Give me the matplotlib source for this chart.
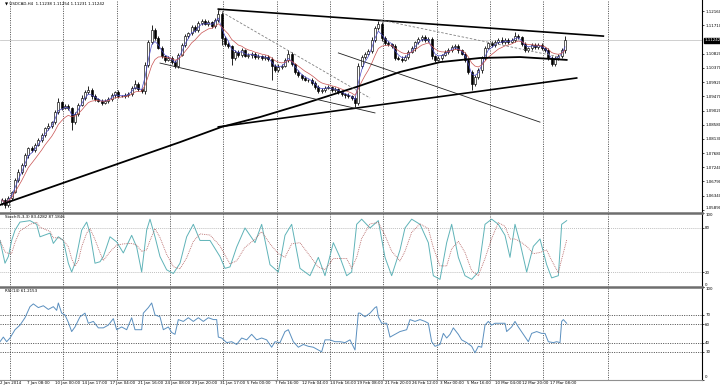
import numpy as np
import pandas as pd
import matplotlib
matplotlib.use("Agg")
import matplotlib.pyplot as plt
from matplotlib.lines import Line2D

# ---------------- data ----------------
open0 = 1.0612
close = [1.0621, 1.0605, 1.0627, 1.0646, 1.0684, 1.0709, 1.0731, 1.0762, 1.0785, 1.0778,
         1.0794, 1.0810, 1.0825, 1.0848, 1.0854, 1.0866, 1.0898, 1.0929, 1.0911, 1.0917,
         1.0911, 1.0866, 1.0892, 1.0920, 1.0942, 1.0961, 1.0967, 1.0948, 1.0939, 1.0933,
         1.0926, 1.0933, 1.0939, 1.0951, 1.0961, 1.0948, 1.0948, 1.0951, 1.0955, 1.0974,
         1.0986, 1.0970, 1.0964, 1.1046, 1.1118, 1.1156, 1.1131, 1.1099, 1.1074, 1.1062,
         1.1068, 1.1055, 1.1043, 1.1077, 1.1109, 1.1137, 1.1147, 1.1166, 1.1156, 1.1178,
         1.1185, 1.1175, 1.1181, 1.1169, 1.1188, 1.1207, 1.1131, 1.1112, 1.1106, 1.1068,
         1.1087, 1.1077, 1.1093, 1.1074, 1.1077, 1.1081, 1.1071, 1.1074, 1.1068, 1.1071,
         1.1065, 1.1043, 1.1030, 1.1040, 1.1043, 1.1062, 1.1081, 1.1049, 1.1024, 1.1014,
         1.1005, 1.0999, 1.0999, 1.0989, 1.0977, 1.0964, 1.0967, 1.0974, 1.0977, 1.0967,
         1.0970, 1.0961, 1.0955, 1.0951, 1.0948, 1.0942, 1.0926, 1.1043, 1.1071, 1.1081,
         1.1090, 1.1125, 1.1162, 1.1175, 1.1131, 1.1115, 1.1112, 1.1106, 1.1068, 1.1065,
         1.1062, 1.1071, 1.1087, 1.1099, 1.1118, 1.1128, 1.1134, 1.1125, 1.1128, 1.1074,
         1.1062, 1.1068, 1.1077, 1.1087, 1.1093, 1.1103, 1.1106, 1.1093, 1.1081, 1.1062,
         1.1024, 1.0986, 1.1008, 1.1030, 1.1068, 1.1099, 1.1115, 1.1109, 1.1118, 1.1125,
         1.1118, 1.1125, 1.1118, 1.1125, 1.1137, 1.1134, 1.1112, 1.1093, 1.1099, 1.1109,
         1.1103, 1.1109, 1.1099, 1.1093, 1.1068, 1.1049, 1.1068, 1.1074, 1.1093, 1.1124]
hi_pips = [6, 5, 7, 4, 6, 8, 5, 7, 4, 6, 5, 7, 6, 4, 8, 5, 6, 13, 5, 7,
           6, 4, 7, 5, 8, 6, 13, 5, 6, 4, 7, 5, 6, 8, 4, 6, 5, 7, 6, 5,
           13, 6, 4, 9, 8, 16, 6, 5, 7, 4, 6, 5, 8, 6, 5, 7, 4, 6, 5, 8,
           6, 5, 7, 4, 6, 15, 8, 5, 6, 4, 7, 5, 6, 4, 8, 5, 6, 7, 4, 6,
           5, 7, 6, 8, 5, 6, 12, 6, 4, 7, 5, 6, 4, 7, 5, 6, 8, 5, 6, 4,
           7, 5, 6, 4, 8, 5, 6, 9, 7, 5, 6, 8, 7, 10, 6, 5, 7, 4, 6, 5,
           8, 6, 5, 7, 4, 6, 8, 5, 7, 6, 5, 7, 4, 6, 8, 5, 6, 7, 4, 6,
           5, 7, 6, 8, 5, 6, 4, 7, 6, 5, 8, 6, 5, 7, 13, 6, 4, 7, 5, 6,
           7, 5, 6, 4, 8, 5, 7, 6, 5, 12]
lo_pips = [7, 8, 5, 6, 4, 7, 5, 6, 8, 5, 6, 4, 7, 5, 6, 8, 5, 6, 7, 4,
           6, 25, 5, 7, 4, 6, 5, 8, 6, 5, 7, 4, 6, 5, 8, 6, 4, 7, 5, 6,
           5, 7, 6, 8, 6, 5, 7, 4, 6, 8, 5, 6, 6, 7, 4, 6, 5, 8, 6, 5,
           7, 4, 6, 5, 8, 6, 22, 7, 5, 22, 6, 5, 7, 4, 6, 8, 5, 6, 7, 5,
           6, 44, 5, 7, 6, 4, 8, 6, 5, 7, 6, 4, 7, 5, 8, 6, 5, 7, 4, 6,
           5, 7, 6, 8, 5, 6, 12, 7, 5, 6, 4, 6, 7, 5, 8, 6, 5, 7, 6, 4,
           6, 5, 7, 4, 8, 6, 5, 7, 6, 8, 7, 5, 6, 4, 7, 5, 6, 8, 5, 6,
           7, 19, 6, 5, 8, 6, 4, 7, 5, 6, 5, 7, 6, 4, 8, 6, 5, 7, 6, 5,
           6, 8, 5, 7, 6, 5, 7, 6, 5, 8]

# slow moving average (black), read at H4-bar times
ma_t = [0, 36, 72, 108, 133, 156, 180, 214, 240, 264, 288, 312, 340]
ma_p = [1.0605, 1.0671, 1.0737, 1.0803, 1.0851, 1.0882, 1.0920, 1.0977, 1.1024, 1.1055, 1.1068, 1.1071, 1.1062]

# drawn trendlines: (t0, p0, t1, p1)
top_line = (131, 1.1222, 362, 1.1137)
support_line = (131, 1.0851, 346, 1.1005)
chan1_low = (96, 1.1052, 225, 1.0895)
chan1_up = (131, 1.1219, 222, 1.0942)
chan2_low = (203, 1.1084, 324, 1.0866)
chan2_up = (228, 1.1188, 336, 1.1071)

# stochastic main line
st_t = [0, 3, 5, 7, 9, 12, 18, 22, 24, 30, 32, 35, 38, 41, 43, 45, 47, 49, 52, 54,
        57, 60, 62, 66, 70, 74, 79, 82, 85, 88, 90, 93, 96, 100, 104, 108, 112, 116, 120, 126,
        132, 135, 138, 142, 147, 153, 157, 162, 167, 171, 175, 180, 186, 191, 195, 200, 204, 208, 211, 214,
        217, 222, 227, 231, 235, 240, 243, 247, 252, 257, 260, 264, 268, 271, 275, 279, 283, 287, 291, 295,
        299, 303, 306, 309, 312, 316, 320, 324, 328, 331, 335, 337, 340]
st_v = [63, 32, 41, 63, 77, 88, 90, 85, 68, 73, 59, 68, 63, 32, 20, 32, 54, 77, 88, 73,
        32, 34, 41, 68, 61, 46, 70, 54, 20, 77, 92, 68, 41, 23, 18, 32, 68, 85, 63, 63,
        41, 25, 27, 54, 80, 60, 85, 30, 20, 70, 85, 25, 15, 40, 15, 60, 40, 15, 20, 85,
        92, 80, 90, 40, 15, 50, 80, 92, 85, 60, 15, 10, 60, 85, 40, 15, 10, 20, 85, 92,
        85, 70, 40, 85, 60, 20, 55, 65, 30, 12, 15, 85, 90]

# RSI(14)
rsi_t = [0, 2, 4, 6, 9, 12, 15, 18, 20, 23, 26, 29, 32, 34, 35, 37, 39, 41, 43, 45,
         48, 51, 53, 56, 59, 62, 65, 68, 70, 73, 76, 79, 81, 85, 86, 89, 91, 93, 96, 98,
         101, 103, 105, 107, 110, 113, 116, 119, 122, 125, 128, 130, 131, 133, 136, 139, 142, 145, 148, 151,
         154, 157, 160, 163, 165, 168, 171, 173, 176, 179, 182, 185, 188, 191, 193, 195, 198, 201, 204, 207,
         210, 213, 215, 216, 219, 222, 225, 226, 227, 229, 232, 234, 237, 240, 244, 246, 249, 252, 255, 257,
         259, 261, 264, 266, 268, 270, 272, 275, 277, 280, 283, 285, 287, 289, 291, 293, 295, 297, 300, 303,
         304, 307, 309, 311, 314, 317, 319, 322, 325, 327, 329, 332, 334, 336, 337, 338, 340]
rsi_v = [41, 46, 41, 45, 54, 59, 67, 79, 82, 78, 80, 76, 79, 75, 83, 72, 70, 62, 52, 57,
         68, 72, 61, 63, 56, 56, 59, 66, 54, 57, 54, 67, 54, 54, 72, 78, 83, 70, 68, 54,
         57, 51, 49, 65, 63, 67, 63, 67, 63, 67, 65, 65, 46, 45, 40, 41, 38, 45, 43, 49,
         43, 45, 43, 35, 41, 40, 52, 54, 41, 35, 38, 36, 35, 32, 30, 43, 43, 41, 41, 40,
         43, 32, 72, 72, 68, 72, 78, 79, 68, 61, 61, 46, 49, 52, 54, 65, 63, 65, 63, 61,
         41, 36, 38, 50, 45, 49, 56, 49, 43, 40, 36, 29, 36, 35, 59, 63, 59, 61, 61, 61,
         52, 57, 63, 57, 49, 41, 50, 52, 50, 50, 41, 40, 41, 40, 63, 65, 61]

price_ticks = [1.12160, 1.11710, 1.10820, 1.10370, 1.09920, 1.09470, 1.09020,
               1.08580, 1.08130, 1.07680, 1.07240, 1.06790, 1.06340, 1.05890]
last_price = 1.11242
date_labels = ["2 Jan 2014", "7 Jan 08:00", "10 Jan 00:00", "14 Jan 17:00", "17 Jan 04:00",
               "21 Jan 16:00", "24 Jan 08:00", "29 Jan 20:00", "31 Jan 17:00", "5 Feb 00:00",
               "7 Feb 16:00", "12 Feb 04:00", "14 Feb 16:00", "19 Feb 08:00", "21 Feb 20:00",
               "26 Feb 12:00", "3 Mar 00:00", "5 Mar 16:00", "10 Mar 04:00", "12 Mar 20:00",
               "17 Mar 08:00"]
date_step = 16.5
grid_t = [6, 38, 70, 102, 134, 166, 198, 230, 262, 294, 326, 365]
title = "\u25bc USDCAD,H4  1.11238 1.11254 1.11231 1.11242"
stoch_title = "Stoch(5,3,3) 83.4282 87.1846"
rsi_title = "RSI(14) 61.2153"

# ---------------- figure ----------------
W, H = 720, 385
fig = plt.figure(figsize=(W / 100, H / 100), dpi=100)
fig.patch.set_facecolor("white")
XR = 702


def rect(top, bottom):
    return [0, 1 - bottom / H, XR / W, (bottom - top) / H]


ax = fig.add_axes(rect(0, 212))
axs = fig.add_axes(rect(213.3, 286.7))
axr = fig.add_axes(rect(287.3, 379.5))
XMAX = XR * 0.6
FS = 2.9
grid_kw = dict(color="#303030", lw=0.6, ls=(0, (1.2, 1.6)))

for a in (ax, axs, axr):
    a.set_xlim(0, XMAX)
    for s in ("left", "top", "bottom"):
        a.spines[s].set_visible(False)
    a.spines["right"].set_color("black")
    a.spines["right"].set_linewidth(0.8)
    a.yaxis.tick_right()
    a.tick_params(axis="y", length=1.5, width=0.5, pad=0.8, labelsize=FS, colors="black")
    a.tick_params(axis="x", length=0, labelsize=FS, pad=0.8)
    for g in grid_t:
        a.axvline(g, **grid_kw, zorder=0)

# --- candles ---
n = len(close)
opens = [open0] + close[:-1]
t = np.arange(n) * 2 + 1
c = np.array(close)
o = np.array(opens)
hi = np.maximum(o, c) + np.array(hi_pips) * 1e-4
lo = np.minimum(o, c) - np.array(lo_pips) * 1e-4
ax.vlines(t, lo, hi, color="black", lw=0.6, zorder=3)
up = c >= o
body_w = 1.3
ax.bar(t[up], (c - o)[up] + 1e-5, bottom=o[up], width=body_w, color="white",
       edgecolor="black", linewidth=0.45, zorder=4)
ax.bar(t[~up], (o - c)[~up] + 1e-5, bottom=c[~up], width=body_w, color="black",
       edgecolor="black", linewidth=0.45, zorder=4)

s = pd.Series(close)
ax.plot(t, s.ewm(span=3).mean(), color="#4848c8", lw=0.5, zorder=5)
ax.plot(t, s.ewm(span=8).mean(), color="#c85050", lw=0.5, zorder=5)
ax.plot(ma_t, ma_p, color="black", lw=1.3, zorder=6)

for ln, lw, col, ls in [(top_line, 1.2, "black", "-"), (support_line, 1.2, "black", "-"),
                        (chan1_low, 0.6, "#202020", "-"), (chan2_low, 0.6, "#202020", "-"),
                        (chan1_up, 0.6, "#808080", (0, (3, 2))), (chan2_up, 0.6, "#808080", (0, (3, 2)))]:
    ax.plot([ln[0], ln[2]], [ln[1], ln[3]], color=col, lw=lw, ls=ls, zorder=6)

ax.axhline(last_price, color="#c8c8c8", lw=0.6, zorder=1)
ax.set_ylim(1.05829, 1.12507)
ax.set_yticks(price_ticks)
ax.set_yticklabels([f"{p:.5f}" for p in price_ticks])
ax.set_xticks([])
ax.text(1.004, last_price, f"{last_price:.5f}", transform=ax.get_yaxis_transform(),
        fontsize=FS, color="white", va="center", ha="left",
        bbox=dict(boxstyle="square,pad=0.12", fc="black", ec="black"))
ax.text(3, 1.12507 - 0.0011, title, fontsize=FS, va="center", ha="left")

# --- stochastic ---
sig = pd.Series(st_v).rolling(3, min_periods=1).mean()
axs.plot(st_t, st_v, color="#5fb3b8", lw=0.7, zorder=3)
axs.plot(st_t, sig, color="#b05a5a", lw=0.6, ls=(0, (1, 1.2)), zorder=3)
for lv in (80, 20):
    axs.axhline(lv, color="#9a9a9a", lw=0.5, ls=(0, (1.2, 1.6)))
axs.set_ylim(0, 100)
axs.set_yticks([100, 80, 20, 0])
axs.set_xticks([])
axs.text(3, 95, stoch_title, fontsize=FS, va="center")

# --- RSI ---
axr.plot(rsi_t, rsi_v, color="#5a8fbf", lw=0.7, zorder=3)
for lv in (70, 60, 40, 30):
    axr.axhline(lv, color="#303030", lw=0.6, ls=(0, (1.2, 1.6)))
axr.set_ylim(0, 100)
axr.set_yticks([100, 70, 60, 40, 30, 0])
axr.text(3, 96, rsi_title, fontsize=FS, va="center")
pos = [i * date_step for i in range(len(date_labels))]
axr.set_xticks(pos)
axr.set_xticklabels(date_labels, ha="left")

# keep the edge labels of the sub-panels inside their panel
for a in (axs, axr):
    labs = a.get_yticklabels()
    labs[0].set_va("top")
    labs[-1].set_va("bottom")
ax.get_yticklabels()[-1].set_va("bottom")

# separators
for yy in (212.6, 287.0):
    fig.add_artist(Line2D([0, XR / W], [1 - yy / H] * 2, color="#6e6e6e", lw=1.8))
fig.add_artist(Line2D([0, XR / W], [1 - 379.6 / H] * 2, color="#909090", lw=0.8))

fig.savefig("out.png", dpi=100, facecolor="white")
